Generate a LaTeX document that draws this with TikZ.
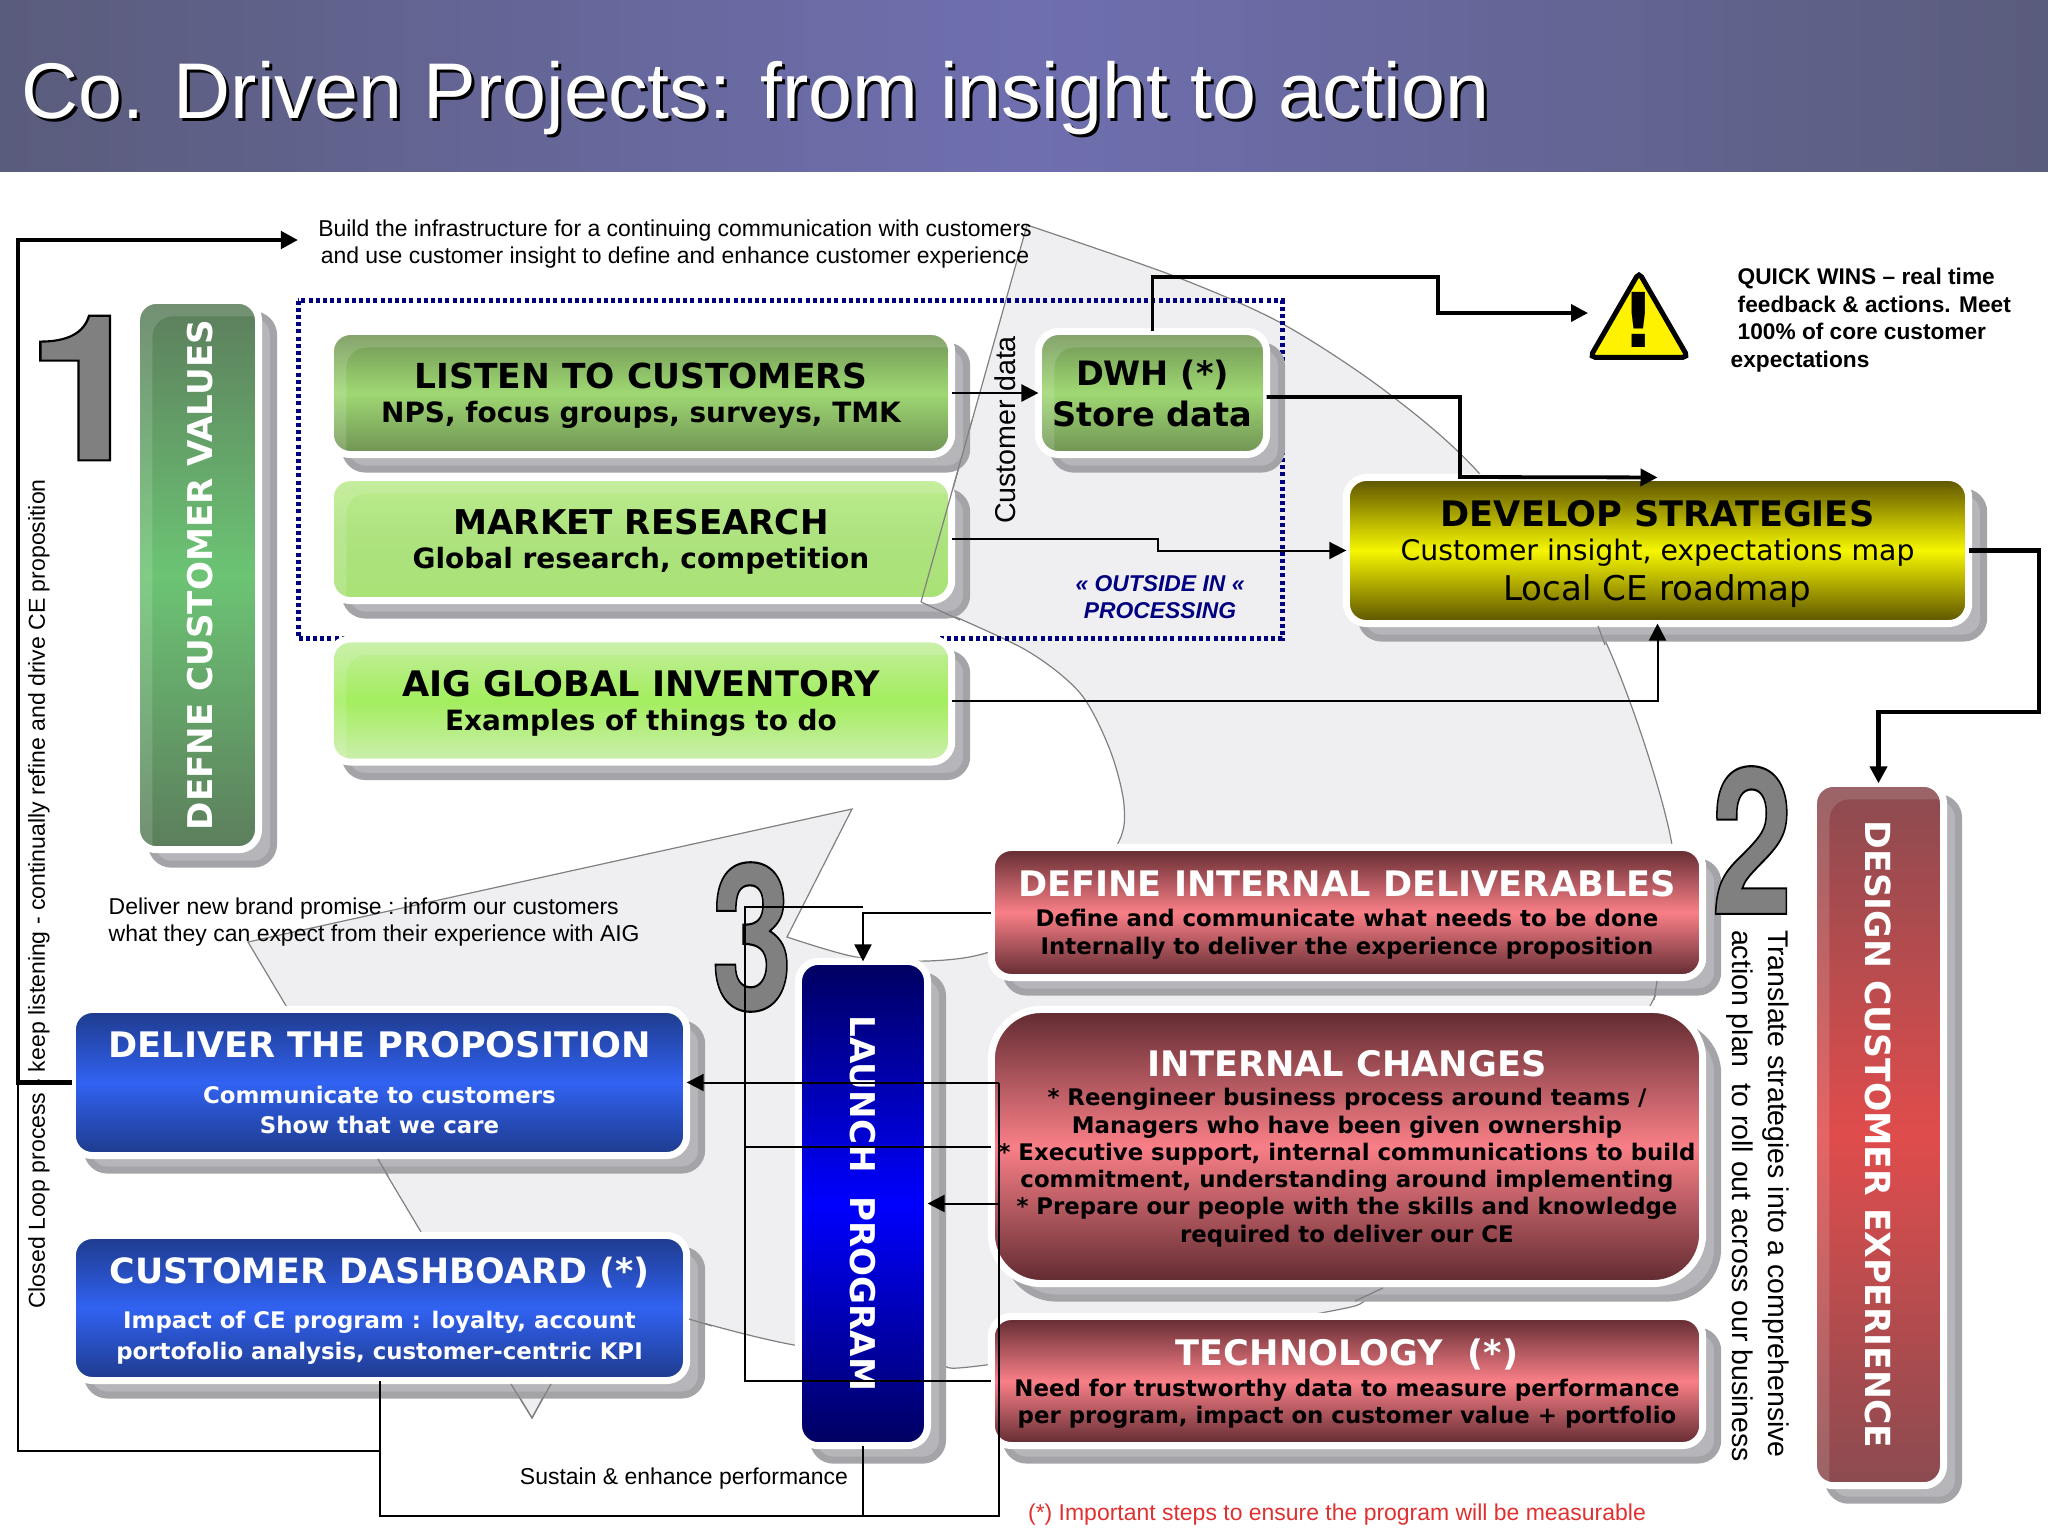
\documentclass[tikz,border=0pt]{standalone}
\usepackage{fontspec}
\setmainfont{Liberation Sans}
\newfontfamily\boxfont{DejaVu Sans}
\newfontfamily\digitfont{TeX Gyre Heros}
\usetikzlibrary{arrows.meta,shadows,shapes.geometric}
\lineskiplimit=-20pt

\definecolor{ringgray}{HTML}{EFEFF1}
\definecolor{shadowgray}{HTML}{B6B6BA}
\definecolor{shadowedge}{HTML}{A4A4A8}
\definecolor{dotnavy}{HTML}{000080}
\definecolor{bannerdark}{HTML}{5A5C7C}
\definecolor{bannermid}{HTML}{6F6FB0}
\definecolor{leafdark}{HTML}{6F9254}
\definecolor{leafmid}{HTML}{9FD873}
\definecolor{paletop}{HTML}{BCEC8E}
\definecolor{palemid}{HTML}{ADE27E}
\definecolor{palelow}{HTML}{A9E276}
\definecolor{limetop}{HTML}{C4EEA0}
\definecolor{limemid}{HTML}{A3EE5E}
\definecolor{limelow}{HTML}{CDEEAE}
\definecolor{olivedark}{HTML}{5A5000}
\definecolor{olivemid}{HTML}{F6F600}
\definecolor{wine}{HTML}{5F2A30}
\definecolor{rose}{HTML}{F97F87}
\definecolor{bluedark}{HTML}{1E3A8A}
\definecolor{bluemid}{HTML}{3162F2}
\definecolor{sagedark}{HTML}{5C7D5C}
\definecolor{sagemid}{HTML}{6CC474}
\definecolor{brickdark}{HTML}{8A4B50}
\definecolor{brickmid}{HTML}{E04C4C}
\definecolor{inkblue}{HTML}{000060}
\definecolor{notered}{HTML}{E03030}
\newcommand{\titlefont}[1][10]{\boxfont\bfseries\fontsize{#1pt}{11pt}\selectfont}
\newcommand{\subfont}[1][6.5]{\boxfont\bfseries\fontsize{#1pt}{7.75pt}\selectfont}
\newcommand{\outlinedigit}[1]{\special{pdf:bcolor [0.5] [0]}\special{pdf:code 2 Tr 0.6 w}#1\special{pdf:code 0 Tr}\special{pdf:ecolor}}

\tikzset{
  flowbox/.style 2 args = {rectangle, rounded corners=2mm, draw=white, line width=.7mm,
    minimum width=.1mm*#1+.7mm, minimum height=.1mm*#2+.7mm, inner sep=0pt, outer sep=0pt, align=center,
    font=\fontsize{6.5pt}{7.75pt}\selectfont,
    drop shadow={shadow xshift=1.5mm, shadow yshift=-1.45mm, fill=shadowgray, draw=shadowedge, opacity=1}},
  gloss/.style = {path picture={\fill[white, fill opacity=.14, even odd rule, sharp corners]
      (path picture bounding box.south west) rectangle (path picture bounding box.north east)
      [rounded corners=2mm] ([xshift=1.6mm,yshift=-1.6mm]path picture bounding box.north west)
      rectangle ([xshift=1cm,yshift=-1cm]path picture bounding box.south east);}},
  paint/.style n args = {3}{top color=#1, bottom color=#3, middle color=#2},
  darkgreen/.style = {paint={leafdark}{leafmid}{leafdark}, gloss, text depth=-1.5pt},
  palegreen/.style = {paint={paletop}{palemid}{palelow}, gloss, text depth=-1.5pt},
  limegreen/.style = {paint={limetop}{limemid}{limelow}, gloss, text depth=-1pt},
  olive/.style = {paint={olivedark}{olivemid}{olivedark}, text depth=-.5pt},
  redbox/.style = {paint={wine}{rose}{wine}, text depth=-1.5pt},
  bluebox/.style = {paint={bluedark}{bluemid}{bluedark}, text depth=-1.5pt},
  bignum/.style = {font=\digitfont\bfseries\fontsize{58pt}{58pt}\selectfont, inner sep=0pt},
  plain/.style = {font=\fontsize{6.53pt}{7.9pt}\selectfont, inner sep=0pt, align=center},
  thinflow/.style = {draw=black, line width=.2mm},
  thickflow/.style = {draw=black, line width=.38mm},
  tip/.style = {-{Triangle[length=1.7mm,width=1.7mm]}},
  ringline/.style = {draw=gray, line width=.12mm}
}

\begin{document}
\begin{tikzpicture}[x=.01cm, y=-.01cm]
  \useasboundingbox (0,0) rectangle (2048,1536);
  \shade[left color=bannerdark, right color=bannerdark, middle color=bannermid] (0,0) rectangle (2048,171);
  \node[anchor=base west, inner sep=0pt, text=black, font=\fontsize{22.46pt}{26pt}\selectfont] (titleshade) at (24,121) {Co. Driven Projects: from insight to action};
  \node[anchor=base west, inner sep=0pt, text=white, font=\fontsize{22.46pt}{26pt}\selectfont] (title) at (21,118) {Co. Driven Projects: from insight to action};

  % big arrow behind the boxes
  \filldraw[ringline, fill=ringgray] (1027,225) -- plot[smooth] coordinates {(1027,225) (1174,276) (1281,323) (1384,390) (1478,472)
      (1598,626) (1672,845) (1657,981) (1650,1006) (1560,1170) (1383,1288) (1321,1313) (986,1365) (931,1363) (794,1345) (689,1319) (600,1290)}
    -- (532,1418) -- (248,942) -- (852,809) -- (787,937)
    -- plot[smooth] coordinates {(787,937) (856,957) (927,961) (986,953) (1060,920) (1117,845) (1124,805) (1110,750) (1080,693) (1024,649) (921,602)}
    -- cycle;

  \draw[dotnavy, line width=.5mm, dash pattern=on .4mm off .32mm] (298,300.5) rectangle (1282,638.5);

  % boxes
  \node[flowbox={115}{542}, paint={sagedark}{sagemid}{sagedark}, gloss] (values) at (197.5,575)
    {\hspace{.6mm}\rotatebox{90}{\titlefont[9.7]\color{white}DEFNE CUSTOMER VALUES}};
  \node[flowbox={614}{116}, darkgreen] (listen) at (641,393)
    {{\titlefont[9.8]LISTEN TO CUSTOMERS}\\[2pt]{\subfont[7.95]NPS, focus groups, surveys, TMK}};
  \node[flowbox={614}{116}, palegreen] (market) at (641,539)
    {{\titlefont[9.7]MARKET RESEARCH}\\[2pt]{\subfont[7.95]Global research, competition}};
  \node[flowbox={614}{116}, limegreen] (inventory) at (641,700.5)
    {{\titlefont AIG GLOBAL INVENTORY}\\[2pt]{\subfont[7.95]Examples of things to do}};
  \node[flowbox={221}{116}, darkgreen] (dwh) at (1152.5,393)
    {{\titlefont[9.55]DWH (*)}\\[3.9pt]{\titlefont[9.55]Store data}};
  \node[flowbox={615}{139}, olive] (develop) at (1657.5,550.5)
    {{\titlefont DEVELOP STRATEGIES}\\[2pt]{\boxfont\fontsize{8.05pt}{9pt}\selectfont Customer insight, expectations map}\\[3.5pt]{\boxfont\fontsize{9.7pt}{11pt}\selectfont Local CE roadmap}};
  \node[flowbox={123}{695}, paint={brickdark}{brickmid}{brickdark}, gloss] (design) at (1878.5,1134.5)
    {\rotatebox{-90}{\titlefont[9.83]\color{white}DESIGN CUSTOMER EXPERIENCE}};
  \node[flowbox={704}{123}, redbox] (define) at (1347,912.5)
    {{\titlefont\color{white}DEFINE INTERNAL DELIVERABLES}\\[.8pt]{\subfont Define and communicate what needs to be done}\\{\subfont Internally to deliver the experience proposition}};
  \node[flowbox={704}{267}, redbox, rounded corners=5mm] (changes) at (1347,1146.5)
    {{\titlefont\color{white}INTERNAL CHANGES}\\[.5pt]{\subfont * Reengineer business process around teams /}\\{\subfont Managers who have been given ownership}\\{\subfont * Executive support, internal communications to build}\\{\subfont commitment, understanding around implementing}\\{\subfont * Prepare our people with the skills and knowledge}\\{\subfont required to deliver our CE}};
  \node[flowbox={704}{122}, redbox] (technology) at (1347,1381)
    {{\titlefont\color{white}TECHNOLOGY~ (*)}\\[1pt]{\subfont Need for trustworthy data to measure performance}\\{\subfont per program, impact on customer value + portfolio}};
  \node[flowbox={607}{139}, bluebox, text=white] (deliver) at (379.5,1082.5)
    {{\titlefont DELIVER THE PROPOSITION}\\[5.5pt]{\subfont Communicate to customers}\\[.8pt]{\subfont Show that we care}};
  \node[flowbox={607}{138}, bluebox, text=white] (dashboard) at (379.5,1308)
    {{\titlefont[9.9]CUSTOMER DASHBOARD (*)}\\[5pt]{\subfont Impact of CE program : loyalty, account}\\[1pt]{\subfont portofolio analysis, customer-centric KPI}};
  \node[flowbox={122}{477}, paint={inkblue}{blue}{inkblue}] (launch) at (863,1203.5)
    {\rotatebox{-90}{\titlefont[9.7]\color{white}LAUNCH~ PROGRAM}};
  % arrow outline where it runs over the box shadows
  \draw[ringline] (972,420) -- (921,602) (921,602) -- (960,620) (378,1159) -- (388,1176) (511,1384) -- (532,1418) -- (551,1384)
    (689,1319) -- (712,1326) (1383,1288) -- (1355,1301) (1657,981) -- (1654,1000) (1598,626) -- (1605,645);

  % step numbers
  \node[bignum, xscale=1.1] (one) at (87.5,388) {\outlinedigit{1}};
  \node[bignum, xscale=.72] (two) at (1752,840) {\outlinedigit{2}};
  \node[bignum, xscale=.72] (three) at (752,937) {\outlinedigit{3}};

  % warning sign
  \node[regular polygon, regular polygon sides=3, draw=black, fill=yellow, line width=.5mm, rounded corners=.5mm,
    minimum size=1.13cm, inner sep=0pt, font=\boxfont\bfseries\fontsize{21.5pt}{22pt}\selectfont] (warn) at (1639,329)
    {\makebox[0pt]{\smash{\raisebox{-1.8mm}{!}}}};
  \coordinate (warntip) at (1588,313);
  \coordinate (looptip) at (298,240);

  % connectors
  \draw[thinflow, line width=.25mm, tip] (listen) -- (dwh);
  \draw[thinflow, tip] (market.east) -- (1158,539) -- (1158,550.5) -- (develop.west);
  \draw[thinflow, tip] (inventory.east) -| (develop.south);
  \draw[thickflow, tip] (dwh.north) |- (1438,277) -- (1438,313) -- (warntip);
  \draw[thickflow, tip] ([yshift=-.4mm]dwh.east) -- (1460,397) -- (1460,477) -- (develop.north);
  \draw[thickflow, line width=.48mm, tip] (develop.east) -- (2039,550.5) -- (2039,712) -- (1878.5,712) -- (design.north);
  \draw[thickflow, line width=.45mm, tip] (deliver.west) -- (18,1082.5) |- (looptip);
  \draw[thinflow] (dashboard.south) |- (18,1451) -- (18,1082.5);
  \draw[thinflow] (dashboard.south) |- (999,1516) -- (999,1082.5);
  \draw[thinflow, tip] (999,1082.5) -- (deliver.east);
  \draw[thinflow, tip] (999,1203.5) -- (launch.east);
  \draw[thinflow] (launch.south) -- (863,1516);
  \draw[thinflow, tip] (define.west) -| (launch.north);
  \draw[thinflow] (863,907) -- (745,907) |- (technology.west);
  \draw[thinflow] (745,1146.5) -- (changes.west);

  % free texts
  \node[plain] (buildtext) at (675,244) {Build the infrastructure for a continuing communication with customers\\and use customer insight to define and enhance customer experience};
  \node[plain, align=left, anchor=west] (brandtext) at (108,922) {Deliver new brand promise : inform our customers\\what they can expect from their experience with AIG};
  \node[plain] (sustaintext) at (684,1479) {Sustain \& enhance performance};
  \node[plain, text=notered] (importanttext) at (1337,1515) {(*) Important steps to ensure the program will be measurable};
  \node[plain, align=left, anchor=west, font=\bfseries\fontsize{6.45pt}{7.8pt}\selectfont] (winstext) at (1730,320) {\hspace{.7mm}QUICK WINS -- real time\\\hspace{.7mm}feedback \& actions. Meet\\\hspace{.7mm}100\% of core customer\\expectations};
  \node[plain, text=dotnavy, font=\bfseries\itshape\fontsize{6.5pt}{7.8pt}\selectfont] (outsidetext) at (1160,597) {« OUTSIDE IN «\\PROCESSING};
  \node[plain, rotate=90, font=\fontsize{6.55pt}{8pt}\selectfont] (looptext) at (39,894) {Closed Loop process - keep listening - continually refine and drive CE proposition};
  \node[plain, rotate=90, font=\fontsize{8.15pt}{9pt}\selectfont] (datatext) at (1005,430) {Customer data};
  \node[plain, rotate=-90, align=left, font=\fontsize{8.1pt}{10.3pt}\selectfont] (translatetext) at (1758,1196) {Translate strategies into a comprehensive\\action plan~ to roll out across our business};
\end{tikzpicture}
\end{document}
